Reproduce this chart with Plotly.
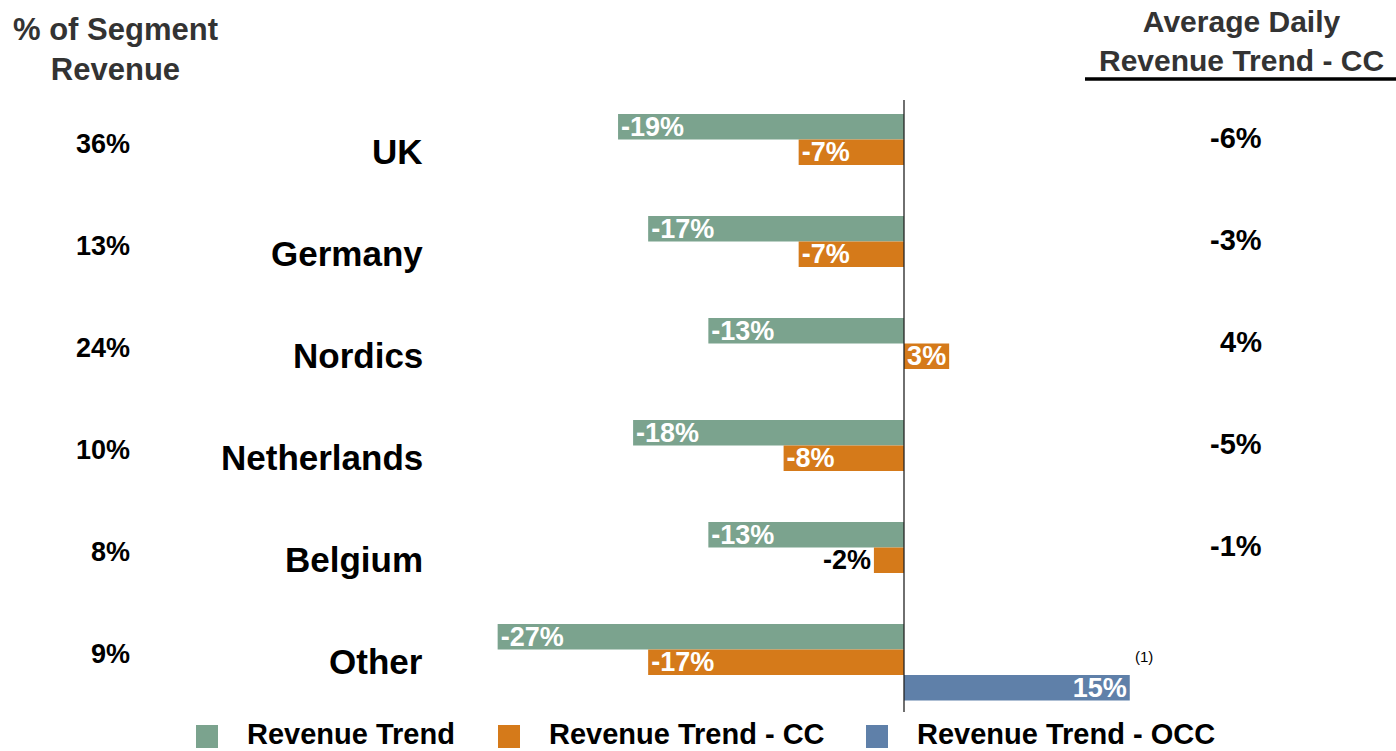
import plotly.graph_objects as go

# Segment data
regions = ["UK", "Germany", "Nordics", "Netherlands", "Belgium", "Other"]
segment_share = ["36%", "13%", "24%", "10%", "8%", "9%"]
revenue_trend = [-19, -17, -13, -18, -13, -27]
revenue_trend_cc = [-7, -7, 3, -8, -2, -17]
revenue_trend_occ = [None, None, None, None, None, 15]
avg_daily_cc = ["-6%", "-3%", "4%", "-5%", "-1%", ""]

legend_names = ["Revenue Trend", "Revenue Trend - CC", "Revenue Trend - OCC"]

GREEN = "#7BA38E"
ORANGE = "#D57A1A"
BLUE = "#5F80A9"
DARK = "#333333"
FONT = "Liberation Sans, Arial, sans-serif"

W, H = 1396, 751
BAR_W = 0.25
idx = list(range(len(regions)))

fig = go.Figure()


def pct(v):
    return "" if v is None else f"{v}%"


fig.add_trace(go.Bar(
    x=revenue_trend, y=[i - 0.125 for i in idx], orientation="h",
    width=BAR_W, marker=dict(color=GREEN, line=dict(width=0)),
    text=[pct(v) for v in revenue_trend], textposition="inside",
    insidetextanchor="end", constraintext="none", cliponaxis=False,
    textfont=dict(family=FONT, size=27, color="white", weight="bold"),
    name=legend_names[0], showlegend=False,
))

cc_pos = ["outside" if abs(v) < 3 and v < 0 else "inside" for v in revenue_trend_cc]
fig.add_trace(go.Bar(
    x=revenue_trend_cc, y=[i + 0.125 for i in idx], orientation="h",
    width=BAR_W, marker=dict(color=ORANGE, line=dict(width=0)),
    text=[pct(v) for v in revenue_trend_cc], textposition=cc_pos,
    insidetextanchor="end", constraintext="none", cliponaxis=False,
    insidetextfont=dict(family=FONT, size=27, color="white", weight="bold"),
    outsidetextfont=dict(family=FONT, size=27, color="black", weight="bold"),
    name=legend_names[1], showlegend=False,
))

fig.add_trace(go.Bar(
    x=revenue_trend_occ, y=[i + 0.375 for i in idx], orientation="h",
    width=BAR_W, marker=dict(color=BLUE, line=dict(width=0)),
    text=[pct(v) for v in revenue_trend_occ], textposition="inside",
    insidetextanchor="end", constraintext="none", cliponaxis=False,
    textfont=dict(family=FONT, size=27, color="white", weight="bold"),
    name=legend_names[2], showlegend=False,
))

# axis scaling: 0% sits at x=904 px, ~15.05 px per percentage point
PX_PER_PCT = 15.05
X0 = 904
x_range = [-X0 / PX_PER_PCT, (W - X0) / PX_PER_PCT]
# group spacing of 102 px, first group centre at 139.5 px
Y0, DY = 139.5, 102
y_range = [(H - Y0) / DY, -Y0 / DY]

fig.update_xaxes(range=x_range, visible=False, fixedrange=True)
fig.update_yaxes(range=y_range, visible=False, fixedrange=True)

# zero line
fig.add_shape(type="line", xref="x", yref="y", x0=0, x1=0,
              y0=(100 - Y0) / DY, y1=(712 - Y0) / DY,
              line=dict(color="#222222", width=1.3))

ann = []
for i in idx:
    ann.append(dict(x=132 / W, xref="paper", y=i + 0.04, yref="y",
                    text=segment_share[i], showarrow=False,
                    xanchor="right", yanchor="middle",
                    font=dict(family=FONT, size=27, color="black", weight="bold")))
    ann.append(dict(x=425 / W, xref="paper", y=i + 0.12, yref="y",
                    text=regions[i], showarrow=False,
                    xanchor="right", yanchor="middle",
                    font=dict(family=FONT, size=35, color="black", weight="bold")))
    if avg_daily_cc[i]:
        ann.append(dict(x=1264 / W, xref="paper", y=i - 0.01, yref="y",
                        text=avg_daily_cc[i], showarrow=False,
                        xanchor="right", yanchor="middle",
                        font=dict(family=FONT, size=29, color="black", weight="bold")))

# column headers
ann.append(dict(x=115 / W, xref="paper", y=1 - 50 / H, yref="paper",
                text="% of Segment<br>Revenue", showarrow=False,
                xanchor="center", yanchor="middle", align="center",
                font=dict(family=FONT, size=31, color=DARK, weight="bold")))
ann.append(dict(x=1241 / W, xref="paper", y=1 - 41 / H, yref="paper",
                text="Average Daily<br>Revenue Trend - CC", showarrow=False,
                xanchor="center", yanchor="middle", align="center",
                font=dict(family=FONT, size=30, color=DARK, weight="bold")))
fig.add_shape(type="line", xref="paper", yref="paper", x0=1085 / W, x1=1,
              y0=1 - 79 / H, y1=1 - 79 / H, line=dict(color="black", width=3.5))

# footnote marker
ann.append(dict(x=1144 / W, xref="paper", y=1 - 656 / H, yref="paper",
                text="(1)", showarrow=False, xanchor="center", yanchor="middle",
                font=dict(family=FONT, size=15, color="black")))

# legend
legend_colors = [GREEN, ORANGE, BLUE]
legend_key_x = [196, 498, 866]
for name, col, kx in zip(legend_names, legend_colors, legend_key_x):
    fig.add_shape(type="rect", xref="paper", yref="paper",
                  x0=kx / W, x1=(kx + 22) / W, y0=1 - 748 / H, y1=1 - 725 / H,
                  fillcolor=col, line=dict(width=0))
    ann.append(dict(x=(kx + 50) / W, xref="paper", y=1 - 734 / H, yref="paper",
                    text=name, showarrow=False, xanchor="left", yanchor="middle",
                    borderpad=0,
                    font=dict(family=FONT, size=29, color="black", weight="bold")))

fig.update_layout(
    width=W, height=H, margin=dict(l=0, r=0, t=0, b=0, pad=0),
    paper_bgcolor="white", plot_bgcolor="white",
    barmode="overlay", showlegend=False, annotations=ann,
    font=dict(family=FONT),
)

fig.write_html("out.html", config={"displayModeBar": False})
